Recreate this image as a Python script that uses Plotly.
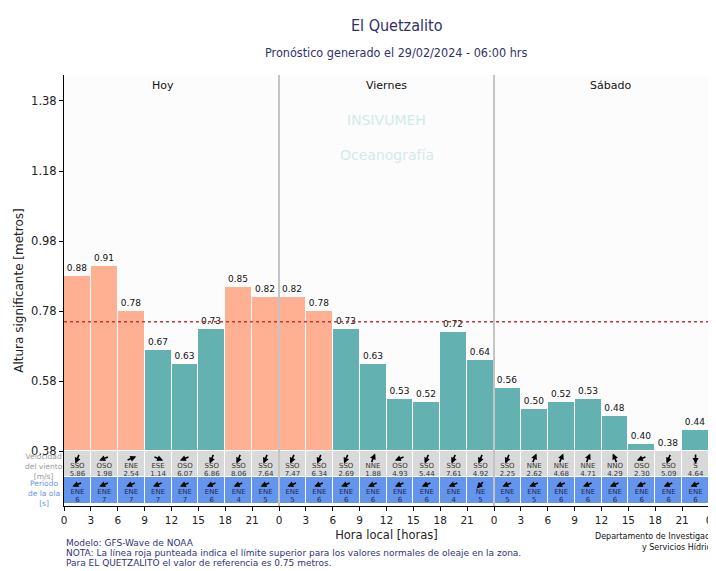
import math
import plotly.graph_objects as go

# ---------------- data ----------------
hour_labels = [0, 3, 6, 9, 12, 15, 18, 21] * 3
days = ["Hoy", "Viernes", "Sábado"]
day_label_x = [11, 36, 61]
wave_height = [0.88, 0.91, 0.78, 0.67, 0.63, 0.73, 0.85, 0.82,
               0.82, 0.78, 0.73, 0.63, 0.53, 0.52, 0.72, 0.64,
               0.56, 0.50, 0.52, 0.53, 0.48, 0.40, 0.38, 0.44]
wind_dir = ["SSO", "OSO", "ENE", "ESE", "OSO", "SSO", "SSO", "SSO",
            "SSO", "SSO", "SSO", "NNE", "OSO", "SSO", "SSO", "SSO",
            "SSO", "NNE", "NNE", "NNE", "NNO", "OSO", "SSO", "S"]
wind_speed = [5.86, 1.98, 2.54, 1.14, 6.07, 6.86, 8.06, 7.64,
              7.47, 6.34, 2.69, 1.88, 4.93, 5.44, 7.61, 4.92,
              2.25, 2.62, 4.68, 4.71, 4.29, 2.30, 5.09, 4.64]
wave_dir = ["ENE", "ENE", "ENE", "ENE", "ENE", "ENE", "ENE", "ENE",
            "ENE", "ENE", "ENE", "ENE", "ENE", "ENE", "ENE", "NE",
            "ENE", "ENE", "ENE", "ENE", "ENE", "ENE", "ENE", "ENE"]
wave_period = [6, 7, 7, 7, 7, 6, 4, 5,
               5, 6, 6, 6, 6, 6, 4, 5,
               5, 5, 6, 6, 6, 6, 6, 6]
threshold = 0.75
yticks = [0.38, 0.58, 0.78, 0.98, 1.18, 1.38]

compass = {"N": 0, "NNE": 22.5, "NE": 45, "ENE": 67.5, "E": 90, "ESE": 112.5,
           "SE": 135, "SSE": 157.5, "S": 180, "SSO": 202.5, "SO": 225,
           "OSO": 247.5, "O": 270, "ONO": 292.5, "NO": 315, "NNO": 337.5}

# ---------------- geometry ----------------
# page body has an 8px margin, so the figure is made 8px smaller
OFF = 8
VW, VH = 716, 571
PL, PR, PT, PB = 64, 709, 75, 506        # plot borders in viewport pixels
W, H = VW - OFF, VH - OFF
ML, MT = PL - OFF, PT - OFF
MR, MB = VW - PR, VH - PB
YMIN, YMAX = 0.224, 1.454
XMAX = 72
base = yticks[0]
row_split = 0.3055
row_bottom = 0.2295
pw, ph = PR - PL, PB - PT
PX_X = pw / XMAX
PX_Y = ph / (YMAX - YMIN)

n = len(wave_height)
xs = [3 * i + 1.5 for i in range(n)]
bar_colors = ["#FFB093" if v > threshold else "#64B1B1" for v in wave_height]


def ypx(p):
    """viewport pixel row -> data y"""
    return YMAX - (p - PT) / PX_Y


def xpaper(p):
    return (p - PL) / pw


def ypaper(p):
    return (PB - p) / ph


fig = go.Figure()

# wave height bars
fig.add_trace(go.Bar(
    x=xs, y=[v - base for v in wave_height], base=base, width=3,
    marker=dict(color=bar_colors, line=dict(color="white", width=1)),
    text=[f"{v:.2f}" for v in wave_height], textposition="outside",
    textfont=dict(size=9, color="#111", family="DejaVu Sans"),
    cliponaxis=False, hoverinfo="skip"))
# wind row
fig.add_trace(go.Bar(
    x=xs, y=[base - row_split] * n, base=row_split, width=3,
    marker=dict(color="#D9D9D9", line=dict(color="white", width=1)),
    hoverinfo="skip"))
# wave row
fig.add_trace(go.Bar(
    x=xs, y=[row_split - row_bottom] * n, base=row_bottom, width=3,
    marker=dict(color="#6495ED", line=dict(color="white", width=1)),
    hoverinfo="skip"))

# cell texts
fig.add_trace(go.Scatter(x=xs, y=[ypx(466.5)] * n, mode="text", text=wind_dir,
                         textfont=dict(size=7, color="#333"), hoverinfo="skip"))
fig.add_trace(go.Scatter(x=xs, y=[ypx(474)] * n, mode="text",
                         text=[f"{v:.2f}" for v in wind_speed],
                         textfont=dict(size=7, color="#333"), hoverinfo="skip"))
fig.add_trace(go.Scatter(x=xs, y=[ypx(492.5)] * n, mode="text", text=wave_dir,
                         textfont=dict(size=7, color="#1c2a55"), hoverinfo="skip"))
fig.add_trace(go.Scatter(x=xs, y=[ypx(500.5)] * n, mode="text",
                         text=[str(v) for v in wave_period],
                         textfont=dict(size=7, color="#1c2a55"), hoverinfo="skip"))

annotations = []


def arrow(xc, yc, deg, length=11):
    r = math.radians(deg)
    dx = math.sin(r) * length / 2      # screen right
    dy = -math.cos(r) * length / 2     # screen down
    hx, hy = xc + dx / PX_X, yc - dy / PX_Y
    annotations.append(dict(x=hx, y=hy, ax=-2 * dx, ay=-2 * dy,
                            xref="x", yref="y", showarrow=True, text="",
                            arrowhead=2, arrowsize=0.75, arrowwidth=1.6,
                            arrowcolor="black"))


for i in range(n):
    arrow(xs[i], ypx(458.5), compass[wind_dir[i]])
    arrow(xs[i], ypx(484.5), compass[wave_dir[i]] + 180)

# row labels
annotations.append(dict(x=xpaper(44), y=ypx(466), xref="paper", yref="y",
                        xanchor="center", yanchor="middle",
                        text="Velocidad<br>del viento<br>[m/s]", showarrow=False,
                        font=dict(size=7.5, color="#9a9a9a"), align="center"))
annotations.append(dict(x=xpaper(44), y=ypx(493), xref="paper", yref="y",
                        xanchor="center", yanchor="middle",
                        text="Periodo<br>de la ola<br>[s]", showarrow=False,
                        font=dict(size=7.5, color="#6495ED"), align="center"))

# day labels
for d, name in enumerate(days):
    annotations.append(dict(x=day_label_x[d], y=ypx(85), xref="x", yref="y", text=name,
                            xanchor="center", showarrow=False,
                            font=dict(size=11, color="#111")))

# watermark
annotations.append(dict(x=36, y=ypx(120), xref="x", yref="y", text="INSIVUMEH",
                        xanchor="center", showarrow=False,
                        font=dict(size=14, color="#d3eaea")))
annotations.append(dict(x=36, y=ypx(155), xref="x", yref="y", text="Oceanografía",
                        xanchor="center", showarrow=False,
                        font=dict(size=14, color="#d3eaea")))

# titles
annotations.append(dict(x=xpaper(397), y=ypaper(14), xref="paper", yref="paper",
                        xanchor="center", text="El Quetzalito", showarrow=False,
                        font=dict(size=16, color="#30306b",
                                  family="DejaVu Sans Condensed, DejaVu Sans")))
annotations.append(dict(x=xpaper(396), y=ypaper(43), xref="paper", yref="paper",
                        xanchor="center",
                        text="Pronóstico generado el 29/02/2024 - 06:00 hrs", showarrow=False,
                        font=dict(size=12.5, color="#30306b",
                                  family="DejaVu Sans Condensed, DejaVu Sans")))

foot = ["Modelo: GFS-Wave de NOAA",
        "NOTA: La línea roja punteada indica el límite superior para los valores normales de oleaje en la zona.",
        "Para EL QUETZALITO el valor de referencia es 0.75 metros."]
for k, t in enumerate(foot):
    annotations.append(dict(x=0, y=ypaper(543 + 10 * k), xref="paper", yref="paper",
                            text=t, showarrow=False, xanchor="left", yanchor="middle",
                            font=dict(size=9, color="#33337a")))
annotations.append(dict(x=xpaper(593), y=ypaper(543), xref="paper", yref="paper",
                        text="Departamento de Investigación", showarrow=False,
                        xanchor="left", font=dict(size=8, color="#111")))
annotations.append(dict(x=xpaper(640), y=ypaper(554), xref="paper", yref="paper",
                        text="y Servicios Hídricos", showarrow=False,
                        xanchor="left", font=dict(size=8, color="#111")))

shapes = [
    dict(type="line", xref="x", yref="paper", x0=24, x1=24, y0=0, y1=1,
         line=dict(color="#c4c4c4", width=2), layer="above"),
    dict(type="line", xref="x", yref="paper", x0=48, x1=48, y0=0, y1=1,
         line=dict(color="#c4c4c4", width=2), layer="above"),
    dict(type="line", xref="x", yref="paper", x0=XMAX, x1=XMAX, y0=0, y1=1,
         line=dict(color="#d0d0d0", width=1), layer="above"),
    dict(type="line", xref="x", yref="y", x0=0, x1=XMAX, y0=threshold, y1=threshold,
         line=dict(color="#cc3333", width=1.5, dash="dot"), layer="above"),
]

fig.update_layout(
    width=W, height=H, margin=dict(l=ML, r=MR, t=MT, b=MB, autoexpand=False),
    paper_bgcolor="white", plot_bgcolor="#FCFCFC",
    showlegend=False, barmode="overlay", bargap=0,
    font=dict(family="DejaVu Sans", color="#222"),
    annotations=annotations, shapes=shapes,
    xaxis=dict(range=[0, XMAX], tickvals=[3 * i for i in range(n + 1)],
               ticktext=[str(h) for h in hour_labels] + [str(hour_labels[0])],
               ticks="outside", ticklen=4, tickcolor="black",
               showline=True, linecolor="black", linewidth=1, automargin=False,
               showgrid=False, zeroline=False, tickfont=dict(size=10.5),
               title=dict(text="Hora local [horas]", font=dict(size=11.5), standoff=6)),
    yaxis=dict(range=[YMIN, YMAX], tickvals=yticks,
               ticktext=[f"{v:.2f}" for v in yticks],
               ticks="outside", ticklen=4, tickcolor="black",
               showline=True, linecolor="black", linewidth=1, automargin=False,
               showgrid=False, zeroline=False, tickfont=dict(size=11.5),
               title=dict(text="Altura significante [metros]", font=dict(size=12), standoff=4)),
)

fig.write_html("out.html")
